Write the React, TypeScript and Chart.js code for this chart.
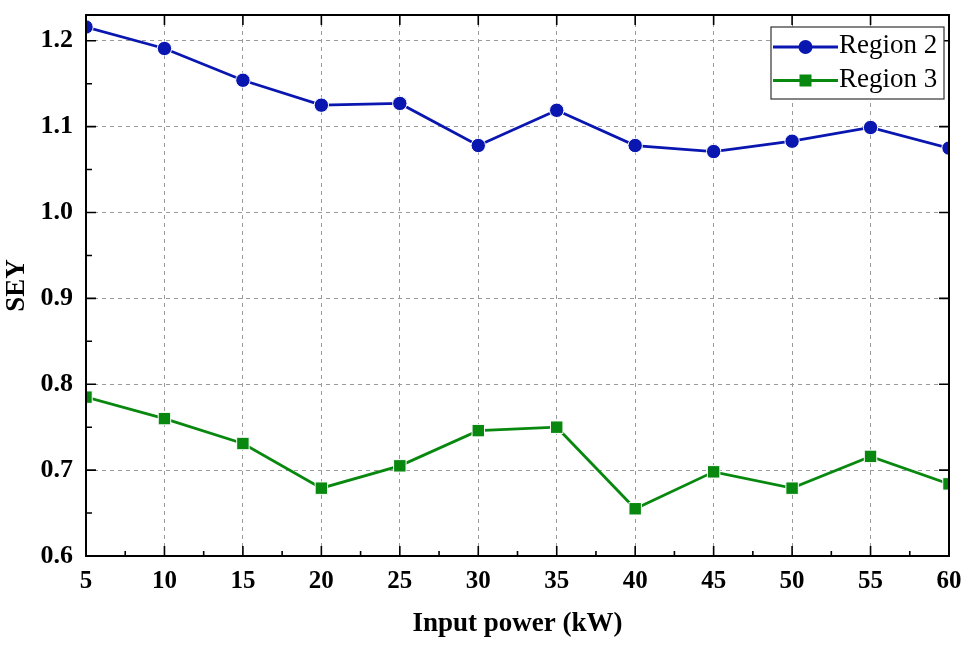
import React, { useEffect, useRef } from 'react';
import { Chart, registerables } from 'chart.js';

Chart.register(...registerables);

// Input power (kW) and secondary electron yield for the two regions
const inputPower = [5, 10, 15, 20, 25, 30, 35, 40, 45, 50, 55, 60];
const region2 = [1.216, 1.191, 1.154, 1.125, 1.127, 1.078, 1.119, 1.078, 1.071, 1.083, 1.099, 1.075];
const region3 = [0.785, 0.76, 0.731, 0.679, 0.705, 0.746, 0.75, 0.655, 0.698, 0.679, 0.716, 0.684];
const seriesNames = ['Region 2', 'Region 3'];
const seriesColors = ['#0a16b0', '#08880f'];
const xTitle = 'Input power (kW)';
const yTitle = 'SEY';

const SERIF = '"Liberation Serif", "Times New Roman", serif';

// Closed black frame with inward ticks (minor ticks on the bottom and left axes)
const frameTicks = {
  id: 'frameTicks',
  afterDatasetsDraw(chart: any) {
    const { ctx, chartArea: a, scales } = chart;
    const x = scales.x;
    const y = scales.y;
    ctx.save();
    ctx.strokeStyle = '#000';
    ctx.lineWidth = 1.6;
    ctx.beginPath();
    const xt = x.ticks.map((t: any) => t.value);
    xt.forEach((v: number, i: number) => {
      const px = x.getPixelForValue(v);
      ctx.moveTo(px, a.bottom);
      ctx.lineTo(px, a.bottom - 10);
      ctx.moveTo(px, a.top);
      ctx.lineTo(px, a.top + 10);
      if (i < xt.length - 1) {
        const mx = x.getPixelForValue((v + xt[i + 1]) / 2);
        ctx.moveTo(mx, a.bottom);
        ctx.lineTo(mx, a.bottom - 5);
      }
    });
    const yt = y.ticks.map((t: any) => t.value);
    yt.forEach((v: number, i: number) => {
      const py = y.getPixelForValue(v);
      ctx.moveTo(a.left, py);
      ctx.lineTo(a.left + 10, py);
      ctx.moveTo(a.right, py);
      ctx.lineTo(a.right - 10, py);
      if (i < yt.length - 1) {
        const my = y.getPixelForValue((v + yt[i + 1]) / 2);
        ctx.moveTo(a.left, my);
        ctx.lineTo(a.left + 6, my);
      }
    });
    ctx.stroke();
    ctx.lineWidth = 2;
    ctx.strokeRect(a.left, a.top, a.right - a.left, a.bottom - a.top);
    ctx.restore();
  },
};

// Boxed legend with line-and-marker samples in the upper right corner
const boxLegend = {
  id: 'boxLegend',
  afterDraw(chart: any) {
    const { ctx, chartArea: a } = chart;
    const boxL = a.right - 178;
    const boxT = a.top + 12;
    const boxW = 173;
    const boxH = 72;
    ctx.save();
    ctx.fillStyle = '#fff';
    ctx.fillRect(boxL, boxT, boxW, boxH);
    ctx.strokeStyle = '#333';
    ctx.lineWidth = 1.2;
    ctx.strokeRect(boxL, boxT, boxW, boxH);
    chart.data.datasets.forEach((ds: any, i: number) => {
      const cy = boxT + 20 + i * 33.5;
      const x0 = boxL + 2;
      const x1 = boxL + 67;
      const cx = (x0 + x1) / 2;
      ctx.strokeStyle = ds.borderColor;
      ctx.lineWidth = 2.8;
      ctx.beginPath();
      ctx.moveTo(x0, cy);
      ctx.lineTo(x1, cy);
      ctx.stroke();
      ctx.fillStyle = ds.backgroundColor;
      if (ds.pointStyle === 'rect') {
        ctx.fillRect(cx - 6, cy - 6, 12, 12);
      } else {
        ctx.beginPath();
        ctx.arc(cx, cy, 7, 0, Math.PI * 2);
        ctx.fill();
      }
      ctx.fillStyle = '#000';
      ctx.font = `27px ${SERIF}`;
      ctx.textBaseline = 'middle';
      ctx.textAlign = 'left';
      ctx.fillText(ds.label, x1 + 1, cy - 1);
    });
    ctx.restore();
  },
};

export default function App() {
  const canvasRef = useRef<HTMLCanvasElement | null>(null);

  useEffect(() => {
    const canvas = canvasRef.current;
    if (!canvas) return;
    const chart = new Chart(canvas, {
      type: 'line',
      data: {
        datasets: [
          {
            label: seriesNames[0],
            data: inputPower.map((p, i) => ({ x: p, y: region2[i] })),
            borderColor: seriesColors[0],
            backgroundColor: seriesColors[0],
            borderWidth: 2.8,
            pointStyle: 'circle',
            pointRadius: 7.2,
            pointBorderColor: '#ffffff',
            pointBorderWidth: 1,
            pointBackgroundColor: seriesColors[0],
            tension: 0,
          },
          {
            label: seriesNames[1],
            data: inputPower.map((p, i) => ({ x: p, y: region3[i] })),
            borderColor: seriesColors[1],
            backgroundColor: seriesColors[1],
            borderWidth: 2.8,
            pointStyle: 'rect',
            pointRadius: 8.8,
            pointBorderColor: '#ffffff',
            pointBorderWidth: 1,
            pointBackgroundColor: seriesColors[1],
            tension: 0,
          },
        ],
      },
      options: {
        animation: false,
        responsive: false,
        devicePixelRatio: 1,
        layout: { padding: { left: 0, top: 15, right: 25, bottom: 0 } },
        plugins: {
          legend: { display: false },
          tooltip: { enabled: false },
        },
        scales: {
          x: {
            type: 'linear',
            min: 5,
            max: 60,
            afterFit: (s: any) => {
              s.height = 98;
              s.paddingLeft = 0;
              s.paddingRight = 0;
            },
            ticks: {
              stepSize: 5,
              padding: 11,
              color: '#000',
              font: { family: SERIF, size: 25, weight: 'bold', lineHeight: 1.2 },
              maxRotation: 0,
            },
            grid: { color: '#9a9a9a', lineWidth: 1, drawTicks: false },
            border: { display: false, dash: [4, 4] },
            title: {
              display: true,
              text: xTitle,
              color: '#000',
              font: { family: SERIF, size: 27, weight: 'bold', lineHeight: 1.2 },
              padding: { top: 0, bottom: 14 },
            },
          },
          y: {
            type: 'linear',
            min: 0.6,
            max: 1.23,
            afterFit: (s: any) => {
              s.width = 86;
              s.paddingTop = 0;
              s.paddingBottom = 0;
            },
            ticks: {
              stepSize: 0.1,
              includeBounds: false,
              padding: 13,
              color: '#000',
              font: { family: SERIF, size: 26, weight: 'bold', lineHeight: 1.2 },
              callback: (v: any) => Number(v).toFixed(1),
            },
            grid: { color: '#9a9a9a', lineWidth: 1, drawTicks: false },
            border: { display: false, dash: [4, 4] },
            title: {
              display: true,
              text: yTitle,
              color: '#000',
              font: { family: SERIF, size: 27, weight: 'bold', lineHeight: 1.2 },
              padding: { top: 1, bottom: 0 },
            },
          },
        },
      } as any,
      plugins: [frameTicks, boxLegend],
    });
    return () => chart.destroy();
  }, []);

  return (
    <div style={{ position: 'absolute', left: 0, top: 0, width: 974, height: 654, background: '#fff' }}>
      <canvas ref={canvasRef} width={974} height={654} style={{ display: 'block' }} />
    </div>
  );
}
